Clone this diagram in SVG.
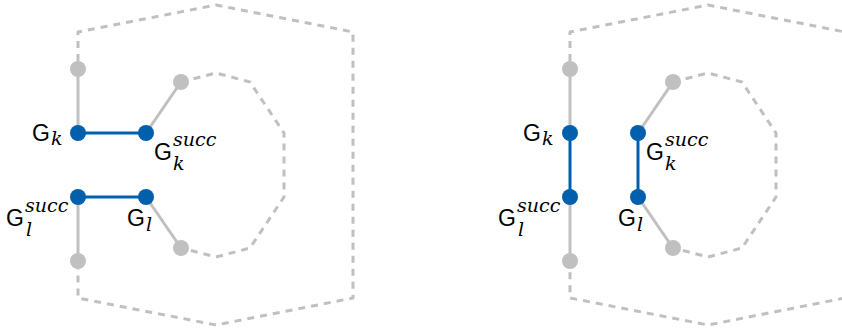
<svg xmlns="http://www.w3.org/2000/svg" width="842" height="328" viewBox="0 0 842 328">
  <style>
    .bound { fill: none; stroke: #c0c0c0; stroke-width: 3; stroke-dasharray: 7 6; stroke-linejoin: round; }
    .edge { fill: none; stroke: #c0c0c0; stroke-width: 3; }
    .cut { fill: none; stroke: #0060ad; stroke-width: 3; }
    .dot { fill: #c0c0c0; }
    .node { fill: #0060ad; }
    .g { font-family: "Liberation Sans", "DejaVu Sans", sans-serif; font-size: 23px; fill: #000; }
    .m { font-family: "DejaVu Serif", "Liberation Serif", serif; font-style: italic; font-size: 19px; fill: #000; }
  </style>

  <!-- before the swap -->
  <g id="bounds-left">
    <polyline class="bound" points="78,61 78,32 216,5 353,32 353,298 216,325 78,298 78,269"/>
    <polyline class="bound" points="181,82 216,73 250,82 284,133 284,197 250,248 216,257 181,248"/>
  </g>
  <g id="edges-left">
    <line class="edge" x1="78" y1="69" x2="78" y2="133"/>
    <line class="edge" x1="146" y1="133" x2="181" y2="82"/>
    <line class="edge" x1="78" y1="197" x2="78" y2="261"/>
    <line class="edge" x1="146" y1="197" x2="181" y2="248"/>
    <line class="cut" x1="78" y1="133" x2="146" y2="133"/>
    <line class="cut" x1="78" y1="197" x2="146" y2="197"/>
  </g>
  <g id="left-p1"><circle class="dot" cx="78" cy="69" r="8"/></g>
  <g id="left-p2"><circle class="dot" cx="181" cy="82" r="8"/></g>
  <g id="left-p3"><circle class="dot" cx="181" cy="248" r="8"/></g>
  <g id="left-p4"><circle class="dot" cx="78" cy="261" r="8"/></g>
  <g id="left-Gk">
    <circle class="node" cx="78" cy="133" r="8"/>
    <text class="g" x="32" y="141">G</text><text class="m" x="51" y="145">k</text>
  </g>
  <g id="left-Gk-succ">
    <circle class="node" cx="146" cy="133" r="8"/>
    <text class="g" x="154" y="160">G</text><text class="m" x="173" y="146">succ</text><text class="m" x="173" y="170">k</text>
  </g>
  <g id="left-Gl-succ">
    <circle class="node" cx="78" cy="197" r="8"/>
    <text class="g" x="6" y="226">G</text><text class="m" x="25" y="212">succ</text><text class="m" x="26" y="236">l</text>
  </g>
  <g id="left-Gl">
    <circle class="node" cx="146" cy="197" r="8"/>
    <text class="g" x="127" y="226">G</text><text class="m" x="146" y="231">l</text>
  </g>

  <!-- after the swap -->
  <g id="bounds-right">
    <polyline class="bound" points="570,61 570,32 708,5 845,32"/>
    <polyline class="bound" points="845,298 708,325 570,298 570,269"/>
    <polyline class="bound" points="673,82 708,73 742,82 776,133 776,197 742,248 708,257 673,248"/>
  </g>
  <g id="edges-right">
    <line class="edge" x1="570" y1="69" x2="570" y2="133"/>
    <line class="edge" x1="570" y1="197" x2="570" y2="261"/>
    <line class="edge" x1="638" y1="133" x2="673" y2="82"/>
    <line class="edge" x1="638" y1="197" x2="673" y2="248"/>
    <line class="cut" x1="570" y1="133" x2="570" y2="197"/>
    <line class="cut" x1="638" y1="133" x2="638" y2="197"/>
  </g>
  <g id="right-p1"><circle class="dot" cx="570" cy="69" r="8"/></g>
  <g id="right-p2"><circle class="dot" cx="673" cy="82" r="8"/></g>
  <g id="right-p3"><circle class="dot" cx="673" cy="248" r="8"/></g>
  <g id="right-p4"><circle class="dot" cx="570" cy="261" r="8"/></g>
  <g id="right-Gk">
    <circle class="node" cx="570" cy="133" r="8"/>
    <text class="g" x="523" y="141">G</text><text class="m" x="542" y="145">k</text>
  </g>
  <g id="right-Gk-succ">
    <circle class="node" cx="638" cy="133" r="8"/>
    <text class="g" x="646" y="160">G</text><text class="m" x="665" y="146">succ</text><text class="m" x="665" y="170">k</text>
  </g>
  <g id="right-Gl-succ">
    <circle class="node" cx="570" cy="197" r="8"/>
    <text class="g" x="498" y="226">G</text><text class="m" x="517" y="212">succ</text><text class="m" x="518" y="236">l</text>
  </g>
  <g id="right-Gl">
    <circle class="node" cx="638" cy="197" r="8"/>
    <text class="g" x="618" y="226">G</text><text class="m" x="637" y="231">l</text>
  </g>
</svg>
